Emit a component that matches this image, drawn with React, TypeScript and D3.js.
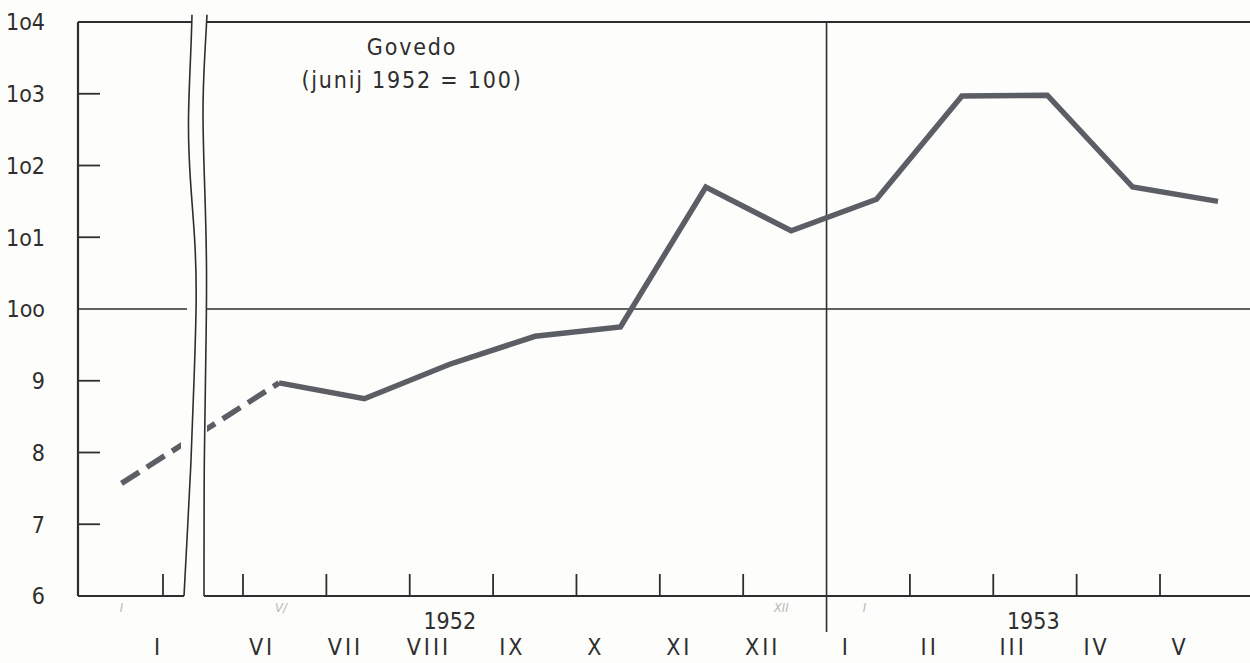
import React, { useEffect, useRef } from 'react';
import * as d3 from 'd3';

// months after the axis break (VI 1952 .. V 1953)
const months = ['VI', 'VII', 'VIII', 'IX', 'X', 'XI', 'XII', 'I', 'II', 'III', 'IV', 'V'];
const values = [98.97, 98.75, 99.23, 99.62, 99.75, 101.7, 101.09, 101.53, 102.97, 102.98, 101.7, 101.5];
// january 1952, left of the break
const leftMonths = ['I'];
const leftValues = [97.57];

const yTickValues = [104, 103, 102, 101, 100, 99, 98, 97, 96];
const yTickLabels = ['1o4', '1o3', '1o2', '1o1', '1oo', '9', '8', '7', '6'];
const years = [
  { label: '1952', month: 'VIII' },
  { label: '1953', month: 'III' },
];
const pencilNotes = [
  { text: 'I', month: 'I', left: true },
  { text: 'V/', month: 'VI', left: false },
  { text: 'XII', month: 'XII', left: false },
  { text: 'I', month: 'I', left: false },
];
const title = ['Govedo', '(junij 1952 = 100)'];

const App: React.FC = () => {
  const svgRef = useRef<SVGSVGElement | null>(null);

  useEffect(() => {
    const width = 1250;
    const height = 663;
    const ink = '#2e2e2e';
    const lineColor = '#5b5e65';
    const font = '"DejaVu Sans Condensed", "Liberation Sans Narrow", sans-serif';

    const svg = d3.select(svgRef.current).attr('width', width).attr('height', height);
    svg.selectAll('*').remove();

    svg.append('rect').attr('width', width).attr('height', height).attr('fill', '#fdfdfb');

    const y = d3.scaleLinear().domain([96, 104]).range([596, 22]);
    const x = d3.scalePoint<string>().domain(months).range([279, 1218]);
    const xTick = d3.scalePoint<string>().domain(months).range([243, 1160]);
    const xLabel = d3.scalePoint<string>().domain(months).range([262, 1180]);
    const xLeft = d3.scaleBand<string>().domain(leftMonths).range([80, 163]);

    const leftEdge = 78;
    const breakL = 186;
    const breakR = 206;

    // frame
    const frame = svg.append('g').attr('stroke', ink).attr('fill', 'none');
    frame.append('line').attr('x1', leftEdge).attr('x2', leftEdge).attr('y1', y(104)).attr('y2', y(96)).attr('stroke-width', 2.2);
    frame.append('line').attr('x1', leftEdge).attr('x2', 192).attr('y1', y(104)).attr('y2', y(104)).attr('stroke-width', 2);
    frame.append('line').attr('x1', 207).attr('x2', width).attr('y1', y(104)).attr('y2', y(104)).attr('stroke-width', 2);
    frame.append('line').attr('x1', leftEdge).attr('x2', 184).attr('y1', y(96)).attr('y2', y(96)).attr('stroke-width', 2.2);
    frame.append('line').attr('x1', 204).attr('x2', width).attr('y1', y(96)).attr('y2', y(96)).attr('stroke-width', 2.2);

    // 100 line
    frame.append('line').attr('x1', leftEdge).attr('x2', 187).attr('y1', y(100)).attr('y2', y(100)).attr('stroke-width', 1.6);
    frame.append('line').attr('x1', breakR).attr('x2', width).attr('y1', y(100)).attr('y2', y(100)).attr('stroke-width', 1.6);

    // year divider
    frame.append('line')
      .attr('x1', xTick('I')!).attr('x2', xTick('I')!)
      .attr('y1', y(104)).attr('y2', 632).attr('stroke-width', 1.6);

    // wavy break lines
    const wave = d3.line<[number, number]>().x(d => d[0]).y(d => y(d[1])).curve(d3.curveBasis);
    const waveL: [number, number][] = [[192, 104.1], [191, 103.6], [187.5, 102.6], [190, 101.8], [195, 101], [197, 100.2], [194, 99], [191, 97.8], [187, 96.8], [184, 96]];
    const waveR: [number, number][] = [[207, 104.1], [205, 103.6], [202, 102.8], [205, 101.6], [207, 100.6], [206, 99.4], [204, 98], [204, 96]];
    frame.append('path').attr('d', wave(waveL)).attr('stroke-width', 1.6);
    frame.append('path').attr('d', wave(waveR)).attr('stroke-width', 1.6);

    // y ticks
    svg.append('g')
      .selectAll('line')
      .data(yTickValues.filter(v => v !== 104 && v !== 100 && v !== 96))
      .enter().append('line')
      .attr('x1', leftEdge).attr('x2', 100)
      .attr('y1', d => y(d)).attr('y2', d => y(d))
      .attr('stroke', ink).attr('stroke-width', 1.8);

    svg.append('g')
      .selectAll('text')
      .data(yTickValues)
      .enter().append('text')
      .attr('x', 45)
      .attr('y', d => y(d))
      .attr('dy', '0.36em')
      .attr('text-anchor', 'end')
      .attr('font-family', font)
      .attr('font-size', 23)
      .attr('fill', ink)
      .text((d, i) => yTickLabels[i]);

    // x ticks
    svg.append('g')
      .selectAll('line')
      .data(months.filter(m => m !== 'I'))
      .enter().append('line')
      .attr('x1', d => xTick(d)!).attr('x2', d => xTick(d)!)
      .attr('y1', y(96)).attr('y2', y(96) - 22)
      .attr('stroke', ink).attr('stroke-width', 1.8);
    svg.append('line')
      .attr('x1', xLeft.range()[1]).attr('x2', xLeft.range()[1])
      .attr('y1', y(96)).attr('y2', y(96) - 22)
      .attr('stroke', ink).attr('stroke-width', 1.8);

    // month labels
    svg.append('g')
      .selectAll('text')
      .data(months)
      .enter().append('text')
      .attr('x', d => xLabel(d)!)
      .attr('y', 655)
      .attr('text-anchor', 'middle')
      .attr('font-family', font)
      .attr('font-size', 23)
      .attr('letter-spacing', 3)
      .attr('fill', ink)
      .text(d => d);
    svg.append('text')
      .attr('x', xLeft.range()[1] - 6)
      .attr('y', 655)
      .attr('text-anchor', 'middle')
      .attr('font-family', font)
      .attr('font-size', 23)
      .attr('fill', ink)
      .text(leftMonths[0]);

    // years
    svg.append('g')
      .selectAll('text')
      .data(years)
      .enter().append('text')
      .attr('x', d => xTick(d.month)! + 40)
      .attr('y', 629)
      .attr('text-anchor', 'middle')
      .attr('font-family', font)
      .attr('font-size', 23)
      .attr('fill', ink)
      .text(d => d.label);

    // faint pencil notes under the axis
    svg.append('g')
      .selectAll('text')
      .data(pencilNotes)
      .enter().append('text')
      .attr('x', d => (d.left ? xLeft(d.month)! + xLeft.bandwidth() / 2 : xTick(d.month)! + 38))
      .attr('y', 612)
      .attr('text-anchor', 'middle')
      .attr('font-family', font)
      .attr('font-style', 'italic')
      .attr('font-size', 13)
      .attr('fill', '#b9b9b4')
      .text(d => d.text);

    // title
    svg.append('g')
      .selectAll('text')
      .data(title)
      .enter().append('text')
      .attr('x', 412)
      .attr('y', (d, i) => 55 + i * 33)
      .attr('text-anchor', 'middle')
      .attr('font-family', font)
      .attr('font-size', 23)
      .attr('letter-spacing', 1.8)
      .attr('fill', ink)
      .text(d => d);

    // dashed link from january across the break
    const defs = svg.append('defs');
    const clip = defs.append('clipPath').attr('id', 'breakClip');
    clip.append('rect').attr('x', 0).attr('y', 0).attr('width', breakL - 5).attr('height', height);
    clip.append('rect').attr('x', breakR + 1).attr('y', 0).attr('width', width).attr('height', height);

    const line = d3.line<[number, number]>().x(d => d[0]).y(d => d[1]);
    const dashPts: [number, number][] = [
      [xLeft(leftMonths[0])! + xLeft.bandwidth() / 2, y(leftValues[0])],
      [x(months[0])!, y(values[0])],
    ];
    svg.append('path')
      .attr('d', line(dashPts))
      .attr('clip-path', 'url(#breakClip)')
      .attr('fill', 'none')
      .attr('stroke', lineColor)
      .attr('stroke-width', 5.5)
      .attr('stroke-dasharray', '21 9');

    // main series
    svg.append('path')
      .datum(months.map((m, i) => [x(m)!, y(values[i])] as [number, number]))
      .attr('d', line)
      .attr('fill', 'none')
      .attr('stroke', lineColor)
      .attr('stroke-width', 5.5)
      .attr('stroke-linejoin', 'miter');
  }, []);

  return <svg ref={svgRef} style={{ position: 'absolute', left: 0, top: 0 }}></svg>;
};

export default App;
